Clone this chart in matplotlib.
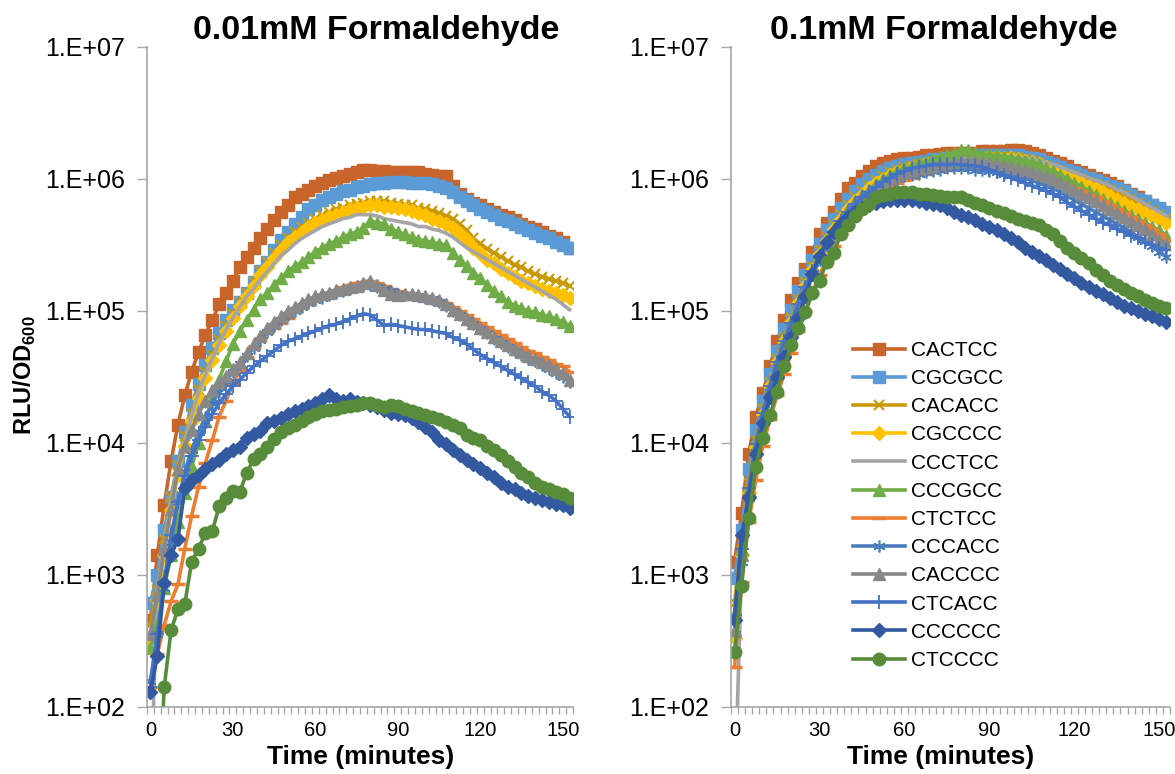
import numpy as np
from matplotlib import pyplot as plt
from matplotlib.ticker import FixedLocator, NullLocator

plt.rcParams.update({'font.family': ['Liberation Sans', 'DejaVu Sans'],
                     'mathtext.fontset': 'custom',
                     'mathtext.rm': 'Liberation Sans',
                     'mathtext.bf': 'Liberation Sans:bold'})

# time points (minutes), one reading every 2.5 min
time_min = np.arange(0, 155, 2.5)

strains = ["CACTCC", "CGCGCC", "CACACC", "CGCCCC", "CCCTCC", "CCCGCC",
           "CTCTCC", "CCCACC", "CACCCC", "CTCACC", "CCCCCC", "CTCCCC"]

# log10(RLU/OD600), 0.01mM formaldehyde
lo_CACTCC = [2.66, 3.15, 3.53, 3.86, 4.14, 4.36, 4.54, 4.69, 4.82, 4.93,
             5.05, 5.14, 5.23, 5.33, 5.41, 5.48, 5.55, 5.62, 5.69, 5.75,
             5.80, 5.86, 5.89, 5.92, 5.95, 5.97, 5.99, 6.01, 6.02, 6.04,
             6.05, 6.07, 6.07, 6.06, 6.06, 6.05, 6.05, 6.05, 6.05, 6.05,
             6.04, 6.03, 6.02, 6.02, 5.95, 5.89, 5.85, 5.82, 5.80, 5.77,
             5.75, 5.73, 5.71, 5.69, 5.66, 5.64, 5.62, 5.60, 5.57, 5.55,
             5.52, 5.48]
lo_CGCGCC = [2.79, 3.00, 3.34, 3.59, 3.86, 4.08, 4.29, 4.45, 4.59, 4.72,
             4.83, 4.93, 5.01, 5.07, 5.14, 5.22, 5.30, 5.37, 5.46, 5.54,
             5.60, 5.66, 5.71, 5.77, 5.80, 5.84, 5.86, 5.89, 5.91, 5.92,
             5.94, 5.95, 5.96, 5.97, 5.97, 5.98, 5.98, 5.98, 5.97, 5.97,
             5.97, 5.96, 5.95, 5.93, 5.90, 5.86, 5.83, 5.80, 5.77, 5.75,
             5.73, 5.70, 5.68, 5.66, 5.64, 5.61, 5.59, 5.57, 5.55, 5.52,
             5.50, 5.48]
lo_CACACC = [2.62, 2.89, 3.27, 3.59, 3.83, 4.05, 4.23, 4.40, 4.54, 4.67,
             4.78, 4.89, 4.98, 5.07, 5.14, 5.22, 5.30, 5.37, 5.44, 5.50,
             5.55, 5.60, 5.64, 5.67, 5.70, 5.73, 5.75, 5.77, 5.78, 5.80,
             5.81, 5.82, 5.83, 5.83, 5.83, 5.82, 5.81, 5.80, 5.80, 5.78,
             5.77, 5.76, 5.74, 5.72, 5.70, 5.66, 5.61, 5.55, 5.51, 5.47,
             5.44, 5.41, 5.38, 5.35, 5.33, 5.30, 5.28, 5.26, 5.24, 5.23,
             5.21, 5.19]
lo_CGCCCC = [2.51, 2.81, 3.15, 3.49, 3.76, 3.98, 4.17, 4.34, 4.49, 4.63,
             4.74, 4.85, 4.95, 5.04, 5.11, 5.19, 5.27, 5.33, 5.40, 5.46,
             5.52, 5.56, 5.60, 5.64, 5.67, 5.69, 5.71, 5.73, 5.75, 5.77,
             5.78, 5.79, 5.80, 5.80, 5.79, 5.79, 5.78, 5.77, 5.76, 5.74,
             5.73, 5.70, 5.68, 5.66, 5.63, 5.58, 5.54, 5.48, 5.44, 5.39,
             5.36, 5.32, 5.29, 5.26, 5.23, 5.21, 5.19, 5.17, 5.15, 5.14,
             5.12, 5.10]
lo_CCCTCC = [1.33, 2.89, 3.23, 3.57, 3.81, 4.02, 4.21, 4.38, 4.52, 4.64,
             4.76, 4.86, 4.95, 5.03, 5.11, 5.17, 5.24, 5.30, 5.36, 5.42,
             5.46, 5.51, 5.55, 5.58, 5.61, 5.64, 5.66, 5.68, 5.70, 5.71,
             5.73, 5.73, 5.73, 5.72, 5.70, 5.69, 5.68, 5.67, 5.66, 5.64,
             5.64, 5.62, 5.61, 5.59, 5.56, 5.52, 5.48, 5.45, 5.42, 5.39,
             5.36, 5.33, 5.30, 5.27, 5.24, 5.21, 5.18, 5.15, 5.12, 5.09,
             5.05, 5.01]
lo_CCCGCC = [2.45, 2.62, 2.90, 3.15, 3.40, 3.62, 3.82, 4.00, 4.17, 4.33,
             4.48, 4.62, 4.75, 4.85, 4.93, 5.01, 5.09, 5.14, 5.20, 5.25,
             5.30, 5.34, 5.37, 5.41, 5.45, 5.48, 5.51, 5.53, 5.56, 5.58,
             5.60, 5.63, 5.68, 5.67, 5.66, 5.62, 5.60, 5.58, 5.56, 5.54,
             5.53, 5.52, 5.51, 5.50, 5.44, 5.39, 5.34, 5.29, 5.25, 5.20,
             5.15, 5.11, 5.07, 5.04, 5.02, 5.00, 4.99, 4.97, 4.96, 4.94,
             4.92, 4.89]
lo_CTCTCC = [2.15, 2.40, 2.62, 2.80, 2.93, 3.20, 3.45, 3.67, 3.85, 4.02,
             4.20, 4.32, 4.45, 4.55, 4.65, 4.73, 4.79, 4.84, 4.87, 4.91,
             4.95, 5.00, 5.03, 5.06, 5.09, 5.12, 5.14, 5.16, 5.18, 5.20,
             5.21, 5.22, 5.23, 5.21, 5.19, 5.17, 5.15, 5.14, 5.13, 5.12,
             5.11, 5.10, 5.08, 5.06, 5.03, 5.00, 4.97, 4.94, 4.91, 4.88,
             4.85, 4.82, 4.79, 4.76, 4.73, 4.70, 4.68, 4.65, 4.63, 4.60,
             4.58, 4.54]
lo_CCCACC = [2.20, 2.55, 2.90, 3.25, 3.55, 3.78, 3.95, 4.08, 4.20, 4.30,
             4.39, 4.47, 4.54, 4.60, 4.66, 4.72, 4.78, 4.84, 4.89, 4.93,
             4.97, 5.00, 5.03, 5.06, 5.08, 5.10, 5.12, 5.14, 5.15, 5.17,
             5.18, 5.19, 5.20, 5.18, 5.17, 5.15, 5.13, 5.12, 5.12, 5.11,
             5.10, 5.09, 5.07, 5.04, 5.00, 4.97, 4.93, 4.90, 4.86, 4.83,
             4.79, 4.76, 4.73, 4.70, 4.67, 4.64, 4.62, 4.59, 4.56, 4.53,
             4.50, 4.46]
lo_CACCCC = [2.55, 2.85, 3.20, 3.50, 3.80, 3.98, 4.10, 4.22, 4.32, 4.40,
             4.46, 4.51, 4.56, 4.61, 4.68, 4.75, 4.81, 4.87, 4.92, 4.96,
             5.00, 5.03, 5.06, 5.09, 5.11, 5.13, 5.14, 5.16, 5.17, 5.18,
             5.19, 5.21, 5.23, 5.20, 5.16, 5.13, 5.12, 5.13, 5.13, 5.12,
             5.11, 5.10, 5.08, 5.05, 5.01, 4.98, 4.94, 4.91, 4.87, 4.84,
             4.80, 4.77, 4.74, 4.71, 4.69, 4.66, 4.64, 4.61, 4.59, 4.56,
             4.53, 4.48]
lo_CTCACC = [2.15, 2.55, 2.95, 3.30, 3.55, 3.75, 3.90, 4.02, 4.12, 4.22,
             4.30, 4.37, 4.43, 4.48, 4.53, 4.58, 4.62, 4.66, 4.70, 4.74,
             4.77, 4.79, 4.81, 4.83, 4.85, 4.87, 4.89, 4.90, 4.92, 4.94,
             4.96, 4.98, 4.97, 4.93, 4.89, 4.90, 4.89, 4.88, 4.87, 4.86,
             4.86, 4.85, 4.84, 4.83, 4.80, 4.78, 4.75, 4.71, 4.67, 4.64,
             4.61, 4.58, 4.55, 4.52, 4.49, 4.46, 4.43, 4.39, 4.36, 4.32,
             4.26, 4.20]
lo_CCCCCC = [2.11, 2.39, 2.94, 3.15, 3.27, 3.66, 3.72, 3.76, 3.80, 3.84,
             3.87, 3.92, 3.95, 3.97, 4.04, 4.07, 4.09, 4.15, 4.17, 4.19,
             4.22, 4.24, 4.26, 4.28, 4.30, 4.33, 4.36, 4.33, 4.32, 4.33,
             4.31, 4.30, 4.29, 4.27, 4.25, 4.23, 4.22, 4.21, 4.19, 4.16,
             4.12, 4.08, 4.02, 3.99, 3.95, 3.91, 3.87, 3.84, 3.81, 3.77,
             3.74, 3.70, 3.67, 3.65, 3.62, 3.60, 3.58, 3.57, 3.55, 3.54,
             3.53, 3.51]
lo_CTCCCC = [1.00, 1.00, 2.15, 2.58, 2.74, 2.78, 3.10, 3.20, 3.32, 3.33,
             3.52, 3.58, 3.64, 3.63, 3.77, 3.88, 3.92, 3.97, 4.03, 4.08,
             4.11, 4.14, 4.17, 4.20, 4.22, 4.24, 4.25, 4.26, 4.27, 4.28,
             4.29, 4.30, 4.30, 4.29, 4.27, 4.29, 4.28, 4.26, 4.24, 4.23,
             4.21, 4.20, 4.18, 4.16, 4.14, 4.11, 4.06, 4.04, 4.02, 3.98,
             3.95, 3.91, 3.86, 3.82, 3.77, 3.74, 3.70, 3.67, 3.65, 3.63,
             3.61, 3.58]

# log10(RLU/OD600), 0.1mM formaldehyde
hi_CACTCC = [3.10, 3.47, 3.92, 4.20, 4.38, 4.58, 4.77, 4.93, 5.08, 5.21,
             5.32, 5.45, 5.58, 5.67, 5.75, 5.85, 5.93, 5.97, 6.02, 6.06,
             6.10, 6.12, 6.14, 6.15, 6.16, 6.16, 6.17, 6.18, 6.18, 6.19,
             6.20, 6.20, 6.20, 6.20, 6.20, 6.21, 6.21, 6.21, 6.21, 6.22,
             6.22, 6.21, 6.20, 6.18, 6.16, 6.14, 6.12, 6.10, 6.07, 6.05,
             6.03, 6.01, 5.99, 5.97, 5.95, 5.92, 5.89, 5.86, 5.83, 5.80,
             5.77, 5.74]
hi_CGCGCC = [2.98, 3.34, 3.80, 4.10, 4.32, 4.52, 4.70, 4.86, 5.01, 5.15,
             5.27, 5.39, 5.51, 5.61, 5.70, 5.78, 5.85, 5.91, 5.96, 6.00,
             6.03, 6.06, 6.08, 6.10, 6.11, 6.12, 6.13, 6.14, 6.15, 6.15,
             6.16, 6.16, 6.17, 6.17, 6.17, 6.18, 6.18, 6.18, 6.18, 6.18,
             6.18, 6.17, 6.16, 6.15, 6.13, 6.11, 6.09, 6.07, 6.05, 6.03,
             6.01, 5.99, 5.97, 5.95, 5.93, 5.91, 5.88, 5.85, 5.83, 5.80,
             5.78, 5.75]
hi_CACACC = [2.79, 3.25, 3.70, 4.02, 4.26, 4.46, 4.64, 4.80, 4.95, 5.09,
             5.22, 5.34, 5.46, 5.56, 5.65, 5.73, 5.80, 5.86, 5.91, 5.95,
             5.99, 6.02, 6.05, 6.07, 6.09, 6.10, 6.11, 6.12, 6.13, 6.14,
             6.15, 6.15, 6.16, 6.16, 6.17, 6.17, 6.17, 6.17, 6.17, 6.17,
             6.16, 6.15, 6.14, 6.12, 6.10, 6.08, 6.06, 6.04, 6.02, 6.00,
             5.98, 5.96, 5.94, 5.92, 5.90, 5.88, 5.85, 5.82, 5.79, 5.76,
             5.73, 5.70]
hi_CGCCCC = [2.52, 3.15, 3.62, 3.97, 4.22, 4.43, 4.61, 4.77, 4.92, 5.06,
             5.19, 5.31, 5.43, 5.53, 5.62, 5.70, 5.77, 5.83, 5.88, 5.93,
             5.97, 6.00, 6.03, 6.05, 6.07, 6.09, 6.10, 6.11, 6.12, 6.13,
             6.14, 6.15, 6.15, 6.16, 6.16, 6.17, 6.17, 6.17, 6.16, 6.16,
             6.15, 6.14, 6.13, 6.11, 6.09, 6.07, 6.05, 6.02, 6.00, 5.98,
             5.95, 5.93, 5.90, 5.87, 5.84, 5.82, 5.79, 5.77, 5.74, 5.72,
             5.70, 5.67]
hi_CCCTCC = [1.30, 3.05, 3.60, 3.96, 4.22, 4.43, 4.61, 4.77, 4.92, 5.06,
             5.19, 5.31, 5.43, 5.53, 5.62, 5.70, 5.77, 5.83, 5.88, 5.92,
             5.96, 5.99, 6.02, 6.04, 6.06, 6.08, 6.09, 6.10, 6.11, 6.12,
             6.13, 6.14, 6.15, 6.16, 6.16, 6.17, 6.17, 6.17, 6.17, 6.17,
             6.16, 6.16, 6.15, 6.14, 6.12, 6.11, 6.09, 6.07, 6.05, 6.03,
             6.01, 5.99, 5.97, 5.95, 5.92, 5.90, 5.87, 5.84, 5.81, 5.78,
             5.75, 5.72]
hi_CCCGCC = [2.71, 3.20, 3.65, 3.98, 4.22, 4.43, 4.61, 4.77, 4.92, 5.06,
             5.19, 5.31, 5.43, 5.53, 5.62, 5.70, 5.77, 5.83, 5.88, 5.92,
             5.96, 6.00, 6.03, 6.06, 6.08, 6.10, 6.12, 6.13, 6.15, 6.17,
             6.18, 6.20, 6.22, 6.22, 6.20, 6.19, 6.18, 6.18, 6.17, 6.16,
             6.15, 6.14, 6.13, 6.11, 6.08, 6.06, 6.03, 6.00, 5.97, 5.94,
             5.91, 5.88, 5.85, 5.82, 5.79, 5.76, 5.73, 5.70, 5.67, 5.64,
             5.61, 5.57]
hi_CTCTCC = [2.30, 2.95, 3.40, 3.72, 3.98, 4.18, 4.36, 4.52, 4.68, 4.85,
             5.00, 5.14, 5.27, 5.39, 5.49, 5.58, 5.65, 5.71, 5.77, 5.82,
             5.87, 5.91, 5.94, 5.97, 5.99, 6.01, 6.03, 6.04, 6.05, 6.06,
             6.07, 6.08, 6.08, 6.09, 6.09, 6.09, 6.09, 6.09, 6.08, 6.08,
             6.07, 6.06, 6.05, 6.03, 6.01, 5.99, 5.97, 5.95, 5.93, 5.91,
             5.88, 5.86, 5.83, 5.80, 5.77, 5.74, 5.71, 5.68, 5.65, 5.62,
             5.58, 5.54]
hi_CCCACC = [2.55, 3.10, 3.58, 3.93, 4.18, 4.39, 4.57, 4.73, 4.88, 5.02,
             5.15, 5.27, 5.39, 5.49, 5.58, 5.66, 5.73, 5.79, 5.84, 5.88,
             5.92, 5.95, 5.98, 6.00, 6.02, 6.03, 6.04, 6.05, 6.06, 6.07,
             6.08, 6.08, 6.08, 6.08, 6.07, 6.07, 6.06, 6.05, 6.04, 6.03,
             6.02, 6.01, 5.99, 5.97, 5.95, 5.93, 5.90, 5.87, 5.84, 5.81,
             5.78, 5.75, 5.72, 5.69, 5.66, 5.63, 5.60, 5.56, 5.53, 5.49,
             5.45, 5.41]
hi_CACCCC = [2.58, 3.15, 3.62, 3.96, 4.21, 4.42, 4.60, 4.76, 4.91, 5.05,
             5.18, 5.30, 5.42, 5.52, 5.61, 5.69, 5.76, 5.82, 5.87, 5.91,
             5.95, 5.98, 6.01, 6.03, 6.05, 6.07, 6.08, 6.09, 6.10, 6.11,
             6.12, 6.13, 6.14, 6.14, 6.14, 6.13, 6.12, 6.11, 6.10, 6.09,
             6.08, 6.07, 6.06, 6.04, 6.02, 6.00, 5.98, 5.95, 5.92, 5.89,
             5.86, 5.83, 5.80, 5.77, 5.74, 5.71, 5.68, 5.65, 5.62, 5.58,
             5.54, 5.51]
hi_CTCACC = [2.70, 3.20, 3.66, 3.99, 4.23, 4.43, 4.61, 4.77, 4.91, 5.05,
             5.18, 5.30, 5.41, 5.51, 5.60, 5.68, 5.75, 5.81, 5.86, 5.90,
             5.94, 5.98, 6.01, 6.04, 6.06, 6.08, 6.09, 6.10, 6.11, 6.11,
             6.11, 6.11, 6.11, 6.10, 6.10, 6.09, 6.07, 6.05, 6.03, 6.01,
             5.99, 5.97, 5.95, 5.93, 5.91, 5.89, 5.86, 5.82, 5.79, 5.76,
             5.73, 5.70, 5.67, 5.65, 5.62, 5.60, 5.57, 5.55, 5.52, 5.50,
             5.48, 5.46]
hi_CCCCCC = [2.66, 3.30, 3.59, 3.92, 4.15, 4.35, 4.50, 4.65, 4.80, 4.95,
             5.11, 5.28, 5.42, 5.52, 5.60, 5.66, 5.71, 5.75, 5.78, 5.80,
             5.82, 5.83, 5.84, 5.84, 5.84, 5.84, 5.83, 5.82, 5.81, 5.80,
             5.78, 5.75, 5.73, 5.71, 5.69, 5.66, 5.64, 5.61, 5.58, 5.55,
             5.52, 5.48, 5.45, 5.42, 5.39, 5.35, 5.32, 5.28, 5.25, 5.21,
             5.18, 5.15, 5.13, 5.10, 5.07, 5.04, 5.02, 5.00, 4.98, 4.96,
             4.94, 4.92]
hi_CTCCCC = [2.42, 2.92, 3.43, 3.82, 4.04, 4.21, 4.39, 4.58, 4.74, 4.87,
             4.99, 5.14, 5.23, 5.37, 5.44, 5.58, 5.65, 5.72, 5.77, 5.81,
             5.86, 5.88, 5.89, 5.90, 5.90, 5.90, 5.89, 5.89, 5.88, 5.87,
             5.86, 5.86, 5.86, 5.84, 5.82, 5.80, 5.78, 5.76, 5.74, 5.72,
             5.70, 5.68, 5.67, 5.65, 5.61, 5.58, 5.53, 5.48, 5.44, 5.40,
             5.36, 5.31, 5.27, 5.23, 5.20, 5.17, 5.14, 5.11, 5.08, 5.06,
             5.04, 5.02]

low_dose = [lo_CACTCC, lo_CGCGCC, lo_CACACC, lo_CGCCCC, lo_CCCTCC, lo_CCCGCC,
            lo_CTCTCC, lo_CCCACC, lo_CACCCC, lo_CTCACC, lo_CCCCCC, lo_CTCCCC]
high_dose = [hi_CACTCC, hi_CGCGCC, hi_CACACC, hi_CGCCCC, hi_CCCTCC, hi_CCCGCC,
             hi_CTCTCC, hi_CCCACC, hi_CACCCC, hi_CTCACC, hi_CCCCCC, hi_CTCCCC]

# line colour, marker, marker size, marker edge width
styles = [("#C8652A", "s", 8, 1),
          ("#5B9BD5", "s", 8, 1),
          ("#C99A06", "x", 7.5, 1.5),
          ("#FFC000", "D", 7, 1),
          ("#A5A5A5", "None", 0, 1),
          ("#70AD47", "^", 8.5, 1),
          ("#ED7D31", "_", 10, 2.5),
          ("#4A7EBB", (6, 2, 0), 8.5, 1.2),
          ("#888888", "^", 8.5, 1),
          ("#4472C4", "+", 10, 1.3),
          ("#335AA1", "D", 7, 1),
          ("#578C3A", "o", 9, 1)]

W, H = 1175, 774
fig = plt.figure(figsize=(W / 100, H / 100), dpi=100)
ax1 = fig.add_axes([147 / W, 1 - 707 / H, 426 / W, 660 / H])
ax2 = fig.add_axes([731 / W, 1 - 707 / H, 439 / W, 660 / H])

for ax, data in ((ax1, low_dose), (ax2, high_dose)):
    for name, vals, (c, m, ms, mew) in zip(strains, data, styles):
        ax.plot(time_min, 10 ** np.array(vals), color=c, lw=2.6, marker=m,
                ms=ms, mew=mew, mec=c, mfc=c, label=name)
    ax.set_yscale('log')
    ax.set_ylim(1e2, 1e7)
    ax.set_xlim(-1.25, 153.75)
    ax.yaxis.set_major_locator(FixedLocator([1e2, 1e3, 1e4, 1e5, 1e6, 1e7]))
    ax.yaxis.set_minor_locator(NullLocator())
    ax.set_yticklabels(["1.E+02", "1.E+03", "1.E+04", "1.E+05", "1.E+06", "1.E+07"])
    ax.set_xticks([0, 30, 60, 90, 120, 150])
    ax.set_xticks(np.arange(-1.25, 154, 2.5), minor=True)
    ax.tick_params(axis='x', which='major', length=0, pad=10, labelsize=14.5)
    ax.tick_params(axis='x', which='minor', length=5, width=1, color='#A6A6A6')
    ax.tick_params(axis='y', length=7, width=1, color='#A6A6A6', pad=9, labelsize=18)
    for s in ('top', 'right'):
        ax.spines[s].set_visible(False)
    for s in ('left', 'bottom'):
        ax.spines[s].set_color('#A6A6A6')
        ax.spines[s].set_linewidth(1.2)

fig.text(376 / W, 1 - 30 / H, "0.01mM Formaldehyde", ha='center', va='center',
         fontsize=24.5, fontweight='bold')
fig.text(944 / W, 1 - 30 / H, "0.1mM Formaldehyde", ha='center', va='center',
         fontsize=24.5, fontweight='bold')
fig.text(361 / W, 1 - 757 / H, "Time (minutes)", ha='center', va='center',
         fontsize=19, fontweight='bold')
fig.text(941 / W, 1 - 757 / H, "Time (minutes)", ha='center', va='center',
         fontsize=19, fontweight='bold')
fig.text(25 / W, 1 - 375 / H, r"RLU/OD$_{\mathbf{600}}$", ha='center', va='center',
         rotation=90, fontsize=17, fontweight='bold')

ax2.legend(loc='upper left', bbox_to_anchor=(853 / W, 1 - 341 / H),
           bbox_transform=fig.transFigure, frameon=False, fontsize=15,
           handlelength=2.5, handletextpad=0.3, labelspacing=0.44,
           borderpad=0, borderaxespad=0)

fig.savefig("out.png", dpi=100)
